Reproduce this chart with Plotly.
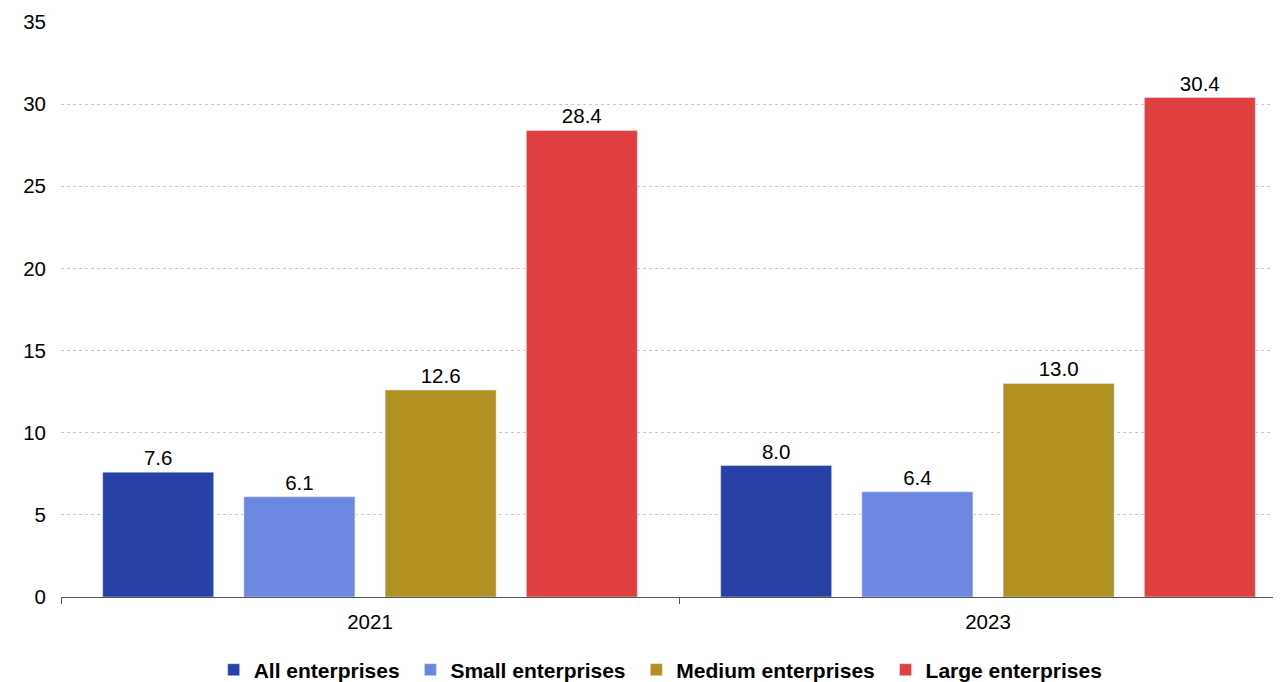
import plotly.graph_objects as go

years = ["2021", "2023"]
series_names = ["All enterprises", "Small enterprises", "Medium enterprises", "Large enterprises"]
all_ent = [7.6, 8.0]
small_ent = [6.1, 6.4]
medium_ent = [12.6, 13.0]
large_ent = [28.4, 30.4]
colors = ["#2642a6", "#6b88e0", "#b09020", "#e04040"]

fig = go.Figure()
for name, vals, col in zip(series_names, [all_ent, small_ent, medium_ent, large_ent], colors):
    fig.add_trace(go.Bar(
        x=years, y=vals, name=name + "\u00a0", marker_color=col,
        text=[f"{v:.1f}" for v in vals], textposition="outside",
        textfont=dict(size=20.5, color="#000000", family="Liberation Sans, Arial"),
        cliponaxis=False,
    ))

fig.update_layout(
    width=1273, height=674,
    margin=dict(l=53, r=1, t=14, b=85, autoexpand=False),
    paper_bgcolor="white", plot_bgcolor="white",
    barmode="group", bargap=0.086, bargroupgap=0.214,
    font=dict(family="Liberation Sans, Arial", size=20.5, color="#000000"),
    showlegend=True,
    legend=dict(orientation="h", x=0.494, xanchor="center", y=-0.127, yanchor="middle",
                font=dict(size=21, weight="bold"), itemwidth=30, traceorder="normal"),
    xaxis=dict(range=[-0.5, 1.4725], showline=True, linecolor="#555555", linewidth=1,
               ticks="outside", tickson="boundaries", ticklen=6, tickcolor="#555555",
               tickfont=dict(size=20.5), ticklabelstandoff=6, automargin=False),
    yaxis=dict(range=[0, 35], dtick=5, showgrid=True, gridcolor="#c8c8c8",
               griddash="dot", zeroline=False, showline=False,
               tickfont=dict(size=20.5), ticklabelstandoff=14, automargin=False),
)
fig.write_html("out.html")
